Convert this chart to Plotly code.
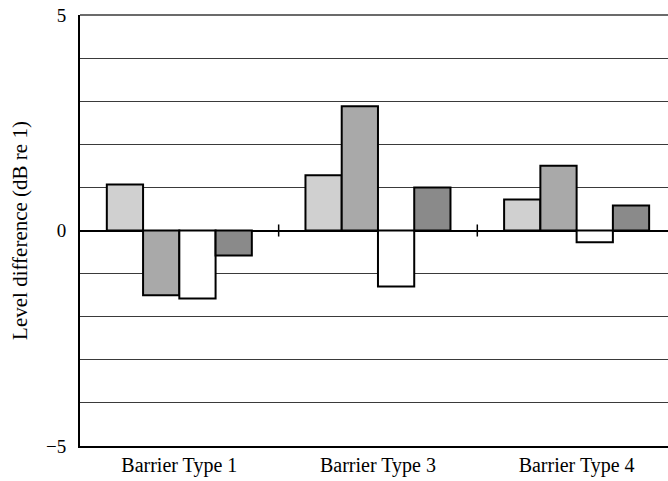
import plotly.graph_objects as go

categories = ["Barrier Type 1", "Barrier Type 3", "Barrier Type 4"]
series_a = [1.07, 1.28, 0.72]
series_b = [-1.5, 2.88, 1.5]
series_c = [-1.58, -1.3, -0.27]
series_d = [-0.58, 1.0, 0.58]
y_tick_vals = [-5, 0, 5]
y_tick_text = ["\u22125", "0", "5"]

colors = ["#d0d0d0", "#a9a9a9", "#ffffff", "#8a8a8a"]
series = [series_a, series_b, series_c, series_d]

fig = go.Figure()
for s, c in zip(series, colors):
    fig.add_trace(go.Bar(x=categories, y=s, marker=dict(color=c, line=dict(color="black", width=2)),
                         showlegend=False))

font = "Liberation Serif, Times New Roman, serif"

shapes = []
for b in [0.5, 1.5]:
    shapes.append(dict(type="line", xref="x", yref="y", x0=b, x1=b, y0=-0.14, y1=0.14,
                       line=dict(color="black", width=1.5)))
shapes.append(dict(type="line", xref="paper", yref="paper", x0=0, x1=1, y0=1, y1=1,
                   line=dict(color="#3a3a3a", width=1.5)))

fig.update_layout(
    width=668, height=481,
    margin=dict(l=80, r=0, t=15, b=35),
    paper_bgcolor="white", plot_bgcolor="white",
    barmode="group", bargap=0.27, bargroupgap=0,
    font=dict(family=font, size=20, color="black"),
    xaxis=dict(range=[-0.5, 2.46], showgrid=False, showline=True, linecolor="black", linewidth=2,
               ticks="", tickfont=dict(size=20, family=font), zeroline=False, automargin=False),
    yaxis=dict(range=[-5, 5], tickvals=y_tick_vals, ticktext=y_tick_text,
               showgrid=True, gridcolor="#3a3a3a", gridwidth=1,
               zeroline=True, zerolinecolor="black", zerolinewidth=1.5,
               showline=True, linecolor="black", linewidth=2, ticks="",
               tickfont=dict(size=19, family=font), automargin=False, ticklabelstandoff=8,
               title=dict(text="Level difference (dB re 1)", font=dict(size=21, family=font), standoff=13)),
    shapes=shapes,
)
fig.update_yaxes(minor=dict(dtick=1, showgrid=True, gridcolor="#3a3a3a", gridwidth=1, tick0=0))
fig.write_html("out.html", post_script="document.body.style.margin='0';",
               config={"displayModeBar": False})
